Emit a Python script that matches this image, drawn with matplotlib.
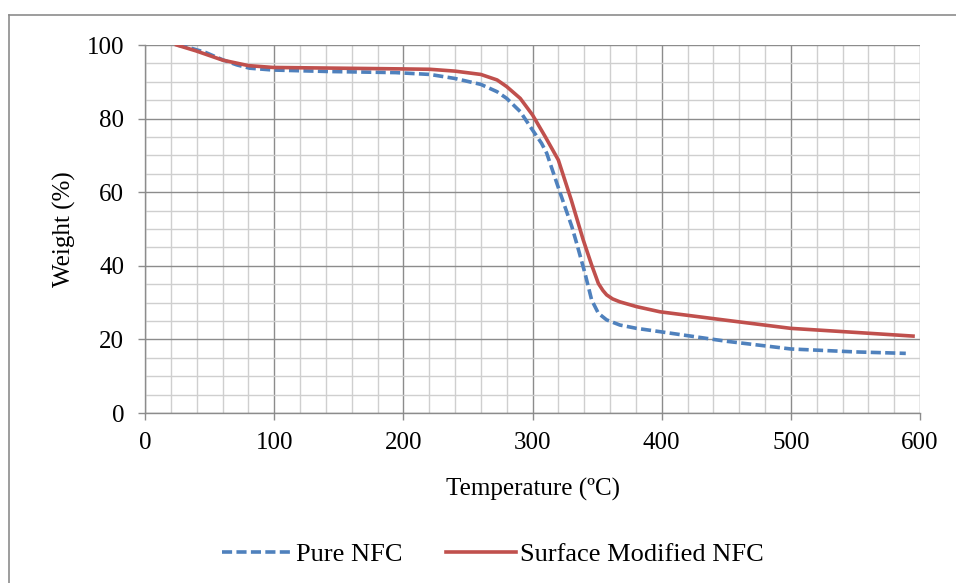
import matplotlib
matplotlib.use("Agg")
import matplotlib.pyplot as plt
from matplotlib.lines import Line2D
from matplotlib.ticker import MultipleLocator

plt.rcParams['font.family'] = ['Liberation Serif', 'DejaVu Serif']

# Pure NFC (blue dashed)
pure_t = [25, 35, 46.7, 60, 71, 81, 99, 142, 194, 220.6, 240, 260, 272.6, 280, 290.5,
          300, 307, 311, 321.5, 330.5, 334.2, 340.6, 345.8, 351, 357.4, 367.7, 380.6,
          398.7, 450, 500, 550, 589]
pure_w = [100, 99.2, 98.0, 96.0, 94.6, 93.7, 93.2, 92.8, 92.5, 92.0, 90.9, 89.3, 87.3,
          85.5, 81.9, 76.9, 73.3, 70.6, 59.7, 50.6, 46.1, 38.0, 30.7, 27.1, 25.3, 23.9,
          23.0, 22.1, 19.5, 17.4, 16.6, 16.2]

# Surface Modified NFC (red solid)
mod_t = [24.5, 39.5, 60, 80, 99, 150, 200, 220.6, 240, 260, 272.6, 280, 290.5, 300,
         310, 320, 330, 339.3, 345.8, 351, 354.5, 357.4, 362, 367.7, 380.6, 398.7, 450,
         500, 550, 594.6]
mod_w = [100, 98.4, 95.9, 94.4, 93.9, 93.7, 93.5, 93.4, 92.9, 92.0, 90.5, 88.7, 85.5,
         81.0, 75.0, 68.75, 57.9, 47.0, 40.2, 35.2, 33.3, 32.1, 31.0, 30.2, 28.9, 27.5,
         25.2, 23.0, 21.9, 20.9]

x_ticks = [0, 100, 200, 300, 400, 500, 600]
y_ticks = [0, 20, 40, 60, 80, 100]

W, H = 956, 583
fig = plt.figure(figsize=(W / 100, H / 100), dpi=100)
ax = fig.add_axes([145 / W, 1 - 413 / H, (920 - 145) / W, (413 - 45) / H])

ax.set_xlim(0, 600)
ax.set_ylim(0, 100)
ax.set_xticks(x_ticks)
ax.set_yticks(y_ticks)
ax.xaxis.set_minor_locator(MultipleLocator(20))
ax.yaxis.set_minor_locator(MultipleLocator(5))

ax.grid(which='major', color='#8c8c8c', linewidth=1.0, zorder=0)
ax.grid(which='minor', color='#cfcfcf', linewidth=1.0, zorder=0)
ax.set_axisbelow(True)

for s in ['top', 'right']:
    ax.spines[s].set_visible(False)
for s in ['left', 'bottom']:
    ax.spines[s].set_color('#8c8c8c')
    ax.spines[s].set_linewidth(1.0)

ax.tick_params(which='major', direction='out', length=5, width=1.0, color='#8c8c8c',
               labelsize=18, labelcolor='black')
ax.tick_params(axis='y', pad=10)
ax.tick_params(axis='x', pad=9)
ax.tick_params(which='minor', length=0)

l1, = ax.plot(pure_t, pure_w, color='#4f81bd', linewidth=2.6, linestyle=(0, (2.8, 1.2)),
              label='Pure NFC', zorder=3, solid_joinstyle='round', dash_joinstyle='round')
l2, = ax.plot(mod_t, mod_w, color='#c0504d', linewidth=2.6, label='Surface Modified NFC',
              zorder=4, solid_joinstyle='round')

ax.set_xlabel('Temperature (ºC)', fontsize=18, labelpad=17)
ax.set_ylabel('Weight (%)', fontsize=18, labelpad=8)

fig.legend(handles=[l1, l2], loc='center', bbox_to_anchor=(493 / W, 1 - 554 / H),
           ncol=2, frameon=False, fontsize=19, handlelength=2.65, columnspacing=1.67,
           handletextpad=0.15)

# outer chart border (clipped at right/bottom)
fig.add_artist(Line2D([9 / W, 1.0], [1 - 15 / H, 1 - 15 / H], color='#8c8c8c', linewidth=1.2,
                      transform=fig.transFigure))
fig.add_artist(Line2D([9 / W, 9 / W], [1 - 15 / H, 0.0], color='#8c8c8c', linewidth=1.2,
                      transform=fig.transFigure))

fig.savefig('out.png', dpi=100)
